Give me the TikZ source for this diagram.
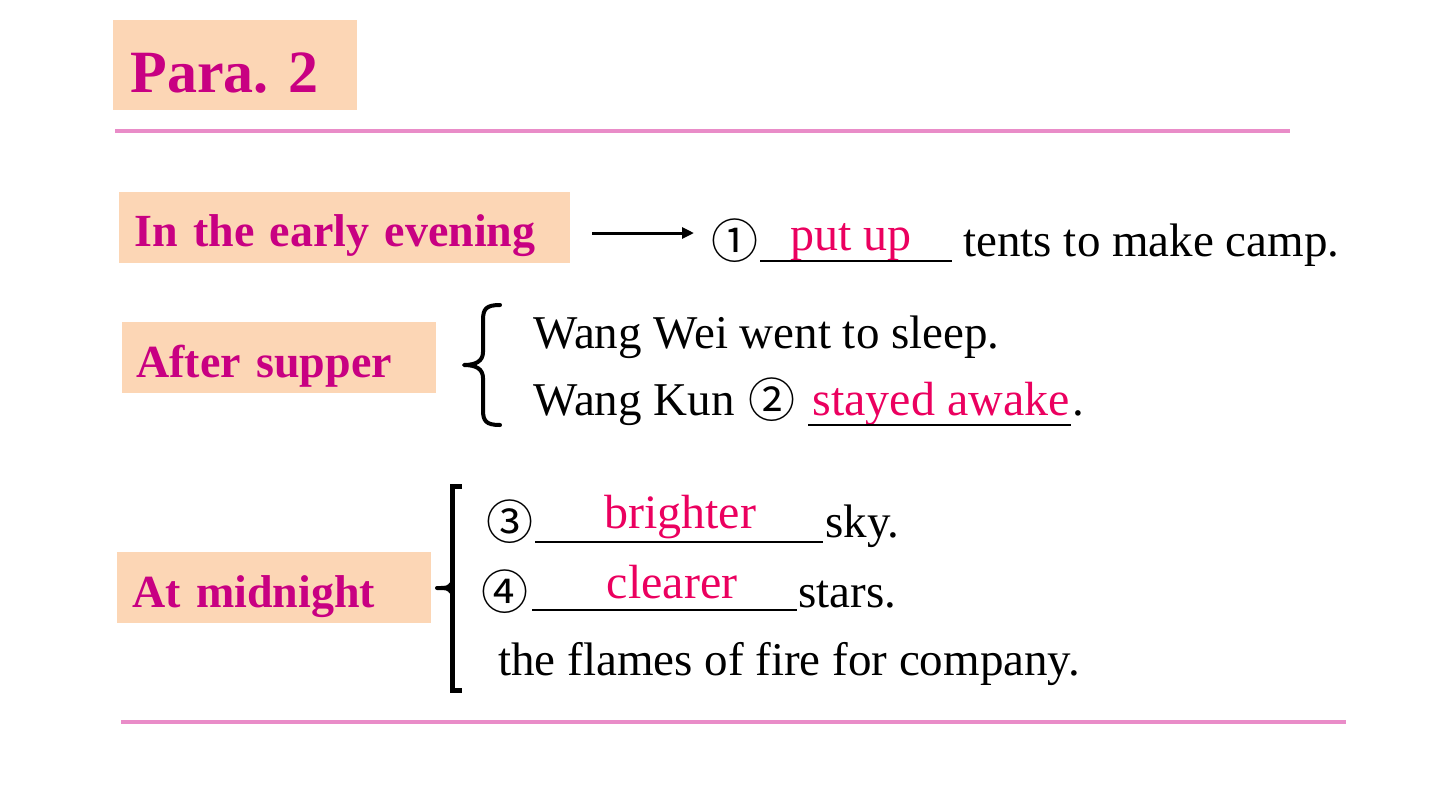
\documentclass[tikz,border=0pt]{standalone}
\usepackage{fontspec}
\setmainfont{Liberation Serif}
\newfontfamily\circfont{Noto Sans CJK SC}
\usetikzlibrary{arrows.meta}

\definecolor{tagpink}{RGB}{200,0,130}
\definecolor{tagfill}{RGB}{252,214,181}
\definecolor{ansred}{RGB}{235,0,95}
\definecolor{rulepink}{RGB}{233,140,200}

\tikzset{
  tag/.style={fill=tagfill, text=tagpink, font=\bfseries\fontsize{23}{23}\selectfont,
    anchor=north west, inner ysep=0pt, inner xsep=7.5pt, align=left},
  line/.style={font=\fontsize{23.5}{24}\selectfont, inner sep=0pt, anchor=base west},
  answer/.style={text=ansred, font=\fontsize{24}{24}\selectfont, inner sep=0pt, anchor=base},
  num/.style={font=\circfont\fontsize{23.5}{24}\selectfont, inner sep=0pt, anchor=base west},
  blank/.style={line width=0.9pt},
  rule/.style={rulepink, line width=2pt},
  brace/.style={line width=2pt, line cap=round, line join=round},
}

\begin{document}
\frenchspacing
\begin{tikzpicture}[x=0.5pt, y=-0.5pt]
  \useasboundingbox (0,0) rectangle (1440,810);

  % heading and the two rules
  \node[tag, font=\bfseries\fontsize{30}{30}\selectfont, inner xsep=8.5pt,
        text width=105pt, text height=36pt, text depth=9pt] (para) at (113,20) {Para. 2};
  \draw[rule] (115,131) -- (1290,131);
  \draw[rule] (121,722) -- (1346,722);

  % time tags
  \node[tag, text width=210.5pt, text height=27pt, text depth=8.5pt] (early) at (119,192) {In the early evening};
  \node[tag, inner xsep=7pt, text width=143pt, text height=27.5pt, text depth=8pt] (supper) at (122,322) {After supper};
  \node[tag, text width=142pt, text height=27.5pt, text depth=8pt] (midnight) at (117,552) {At midnight};

  % early evening
  \coordinate (arrS) at (592,233);
  \coordinate (arrE) at (694,233);
  \draw[-{Triangle[length=6pt,width=5.5pt]}, line width=1.5pt] (arrS) -- (arrE);
  \node[num] (c1) at (711,258) {①};
  \node[answer] (ans1) at (851,250) {put up};
  \draw[blank] (760,261) -- (952,261);
  \node[line] (row1) at (963,256) {tents to make camp.};

  % after supper
  \draw[brace] (500,305) .. controls (486,305) and (483,309) .. (483,320) -- (483,352)
    .. controls (483,361) and (476,365) .. (464,365)
    .. controls (476,365) and (483,369) .. (483,378) -- (483,410)
    .. controls (483,421) and (486,425) .. (500,425);
  \node[line] (row2a) at (533,348) {Wang Wei went to sleep.};
  \node[line] (row2b) at (533,415) {Wang Kun};
  \node[num] (c2) at (748,417) {②};
  \node[answer] (ans2) at (941,415) {stayed awake};
  \draw[blank] (808,425) -- (1071,425);
  \node[line] (dot2) at (1072,415) {.};

  % at midnight
  \draw[line width=2.5pt, line join=miter] (462,486) -- (452,486) -- (452,690) -- (462,690);
  \draw[brace] (452,583) .. controls (448,588) .. (437,588) .. controls (448,588) .. (452,593);
  \node[num] (c3) at (486,539) {③};
  \node[answer] (ans3) at (680,528) {brighter};
  \draw[blank] (535,542) -- (823,542);
  \node[line] (row3) at (825,537) {sky.};
  \node[num] (c4) at (481,609) {④};
  \node[answer] (ans4) at (672,598) {clearer};
  \draw[blank] (532,610) -- (797,610);
  \node[line] (row4) at (798,607) {stars.};
  \node[line] (row5) at (498,675) {the flames of fire for company.};
\end{tikzpicture}
\end{document}
